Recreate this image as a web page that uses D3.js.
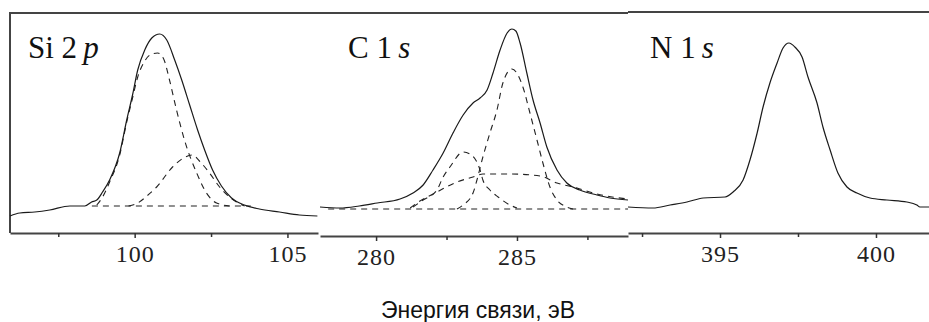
<!DOCTYPE html>
<html>
<head>
<meta charset="utf-8">
<script src="https://cdn.jsdelivr.net/npm/d3@7"></script>
<style>
  body { margin: 0; background: #fff; }
  svg { display: block; }
  .axis .domain { stroke: #444; stroke-width: 2; }
  .axis line { stroke: #333; stroke-width: 1.5; }
  .axis text { font-family: "Liberation Serif", "Times New Roman", serif; font-size: 24px; fill: #222; letter-spacing: 1px; }
</style>
</head>
<body>
<figure id="xps" style="margin:0"></figure>
<script>
// Si 2p  [binding energy eV, intensity a.u.]
const siTotal = [[95.92,17],[96.24,20],[96.73,21],[97.22,23],[97.88,27],[98.37,27],[98.59,31],[98.76,33],
  [98.95,41],[99.18,53],[99.51,80],[99.74,113],[99.93,138],[100.10,163],[100.33,183],[100.56,195],[100.82,199],
  [101.05,193],[101.31,173],[101.54,153],[101.80,128],[102.06,103],[102.29,83],[102.55,63],[102.84,47],
  [103.17,35],[103.59,28],[104.08,24],[104.74,21],[105.39,18],[105.98,17]];
const siPeak1 = [[98.76,28],[98.95,36],[99.18,51],[99.51,78],[99.74,111],[99.93,135],[100.10,156],[100.33,172],
  [100.56,179],[100.75,180],[100.95,174],[101.14,153],[101.37,123],[101.63,93],[102.03,60],[102.35,40],
  [102.68,30],[103.1,27]];
const siPeak2 = [[99.8,27],[100.1,30],[100.4,37],[100.72,46],[101.24,66],[101.6,75],[101.9,78],[102.12,72],
  [102.45,60],[102.78,46],[103.1,36],[103.33,31],[103.6,27]];
const siBackground = [[98.6,27],[103.8,27]];

// C 1s
const cTotal = [[278.01,29],[278.72,28],[279.4,30],[280.04,33],[280.85,37],[281.31,43],[281.67,51],[282.02,66],
  [282.38,83],[282.73,103],[283.09,121],[283.44,133],[283.69,138],[283.94,146],[284.15,163],[284.40,186],
  [284.65,203],[284.82,207],[284.96,205],[285.11,193],[285.35,163],[285.57,136],[285.82,113],[286.06,89],
  [286.42,66],[286.77,53],[287.23,46],[287.84,41],[288.30,38],[288.94,36]];
const cPeakMain = [[282.87,27],[283.09,31],[283.44,43],[283.58,56],[283.79,79],[284.04,103],[284.29,126],
  [284.50,153],[284.82,167],[285.21,149],[285.46,123],[285.71,96],[285.92,73],[286.17,49],[286.42,36],
  [286.77,29],[286.99,27]];
const cPeakBroad = [[281.21,28],[281.45,33],[282.16,44],[282.87,54],[283.44,59],[283.79,62],[284.75,62],
  [285.82,60],[286.42,53],[287.13,48],[287.84,42],[288.94,37]];
const cPeakShoulder = [[281.31,29],[281.67,36],[282.16,46],[282.38,59],[282.62,69],[283.09,84],[283.33,82],
  [283.69,66],[283.79,56],[284.04,46],[284.33,39],[284.75,31],[285.0,28]];
const cBackground = [[278.3,27],[288.94,27]];

// N 1s
const nTotal = [[392.05,26],[392.85,25],[393.40,28],[393.94,31],[394.46,35],[395.16,36],[395.42,41],[395.74,53],
  [395.96,73],[396.19,100],[396.38,126],[396.60,150],[396.83,170],[397.02,185],[397.21,190],[397.40,186],
  [397.63,176],[397.82,156],[398.11,130],[398.30,106],[398.53,83],[398.78,60],[399.07,46],[399.39,40],
  [399.81,35],[400.35,33],[400.99,31],[401.31,28],[401.41,26],[401.70,26]];

const siTicks = [100, 105], siMinor = [97.5, 102.5];
const cTicks = [280, 285], cMinor = [282.5, 287.5];
const nTicks = [395, 400], nMinor = [392.5, 397.5];
const xTitle = "Энергия связи, эВ";

const width = 929, height = 322;
const svg = d3.select("figure#xps").append("svg")
  .attr("width", width).attr("height", height);

const panels = [
  { italic: "p", label: "Si 2", lx: 28, domain: [95.92, 106.0], range: [10, 318], top: 13, base: 233,
    ticks: siTicks, minor: siMinor, total: siTotal, parts: [siPeak1, siPeak2, siBackground] },
  { italic: "s", label: "C 1", lx: 348, domain: [278.01, 288.94], range: [320, 628], top: 13, base: 236,
    ticks: cTicks, minor: cMinor, total: cTotal, parts: [cPeakMain, cPeakBroad, cPeakShoulder, cBackground] },
  { italic: "s", label: "N 1", lx: 650, domain: [392.05, 401.7], range: [628, 929], top: 12, base: 233,
    ticks: nTicks, minor: nMinor, total: nTotal, parts: [] }
];

panels.forEach((p, i) => {
  const x = d3.scaleLinear().domain(p.domain).range(p.range);
  const y = d3.scaleLinear().domain([0, 220]).range([p.base, p.base - 220]);
  const g = svg.append("g");

  // top frame line (panels overlap a little)
  g.append("line")
    .attr("x1", i === 1 ? 310 : p.range[0]).attr("x2", p.range[1] + (i === 0 ? 2 : 0))
    .attr("y1", p.top).attr("y2", p.top)
    .attr("stroke", "#444").attr("stroke-width", 2);
  if (i === 0) {
    g.append("line")
      .attr("x1", p.range[0]).attr("x2", p.range[0])
      .attr("y1", p.top - 1).attr("y2", p.base)
      .attr("stroke", "#444").attr("stroke-width", 2);
  }

  // axes: major ticks with labels, minor ticks without
  g.append("g").attr("class", "axis")
    .attr("transform", "translate(0," + p.base + ")")
    .call(d3.axisBottom(x).tickValues(p.ticks).tickSize(5).tickSizeOuter(0).tickPadding(7).tickFormat(d3.format("d")));
  g.append("g").attr("class", "axis")
    .attr("transform", "translate(0," + p.base + ")")
    .call(d3.axisBottom(x).tickValues(p.minor).tickSize(4).tickSizeOuter(0).tickFormat(""))
    .select(".domain").remove();

  const line = d3.line()
    .x(d => x(d[0])).y(d => y(d[1]))
    .curve(d3.curveMonotoneX);

  p.parts.forEach(part => {
    g.append("path").datum(part)
      .attr("d", line)
      .attr("fill", "none").attr("stroke", "#222").attr("stroke-width", 1.1)
      .attr("stroke-dasharray", "6,5");
  });
  g.append("path").datum(p.total)
    .attr("d", line)
    .attr("fill", "none").attr("stroke", "#1a1a1a").attr("stroke-width", 1.2);

  // spectrum label
  const t = g.append("text")
    .attr("x", p.lx).attr("y", 58)
    .attr("font-family", "'Liberation Serif', 'Times New Roman', serif")
    .attr("font-size", 31).attr("fill", "#111");
  t.append("tspan").text(p.label + "\u2009");
  t.append("tspan").attr("font-style", "italic").text(p.italic);
});

svg.append("text")
  .attr("x", 478).attr("y", 318)
  .attr("text-anchor", "middle")
  .attr("font-family", "'Liberation Sans', Arial, sans-serif")
  .attr("font-size", 23).attr("fill", "#111")
  .text(xTitle);
</script>
</body>
</html>
